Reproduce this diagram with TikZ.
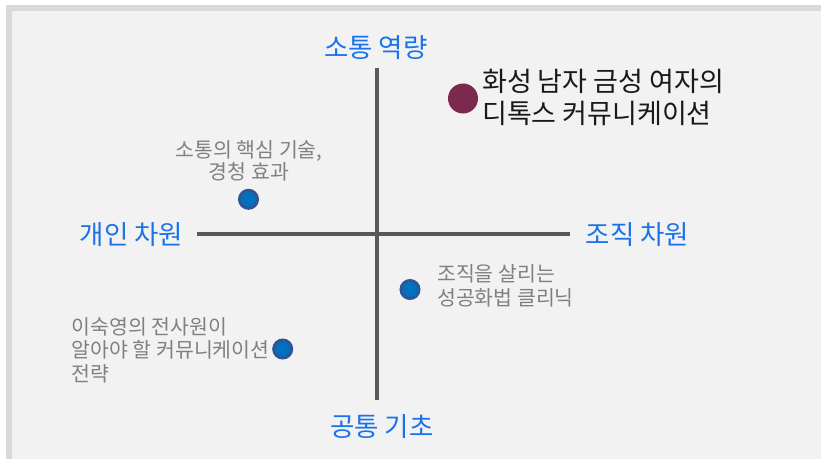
\documentclass[tikz,border=0pt]{standalone}
\usepackage{fontspec}
\setmainfont{Noto Sans CJK KR}
\definecolor{axisc}{HTML}{595959}
\definecolor{labc}{HTML}{1A73E8}
\definecolor{grayt}{HTML}{808080}
\definecolor{dotfill}{HTML}{0070C0}
\definecolor{dotdraw}{HTML}{2F5597}
\definecolor{purp}{HTML}{7B2A4E}
\definecolor{bgc}{HTML}{F2F2F2}
\definecolor{framec}{HTML}{D9D9D9}
\begin{document}
\begin{tikzpicture}[x=1pt,y=-1pt,
  axis/.style={draw=axisc,line width=4pt},
  axlabel/.style={text=labc,font=\fontsize{26.5}{30}\selectfont,inner sep=0pt},
  grtext/.style={text=grayt,font=\fontsize{20.5}{22}\selectfont,inner sep=0pt},
  bdot/.style={circle,fill=dotfill,draw=dotdraw,line width=3pt,minimum size=18pt,inner sep=0pt},
  pdot/.style={circle,fill=purp,minimum size=30pt,inner sep=0pt},
  ptext/.style={text=black!90,font=\fontsize{27}{32}\selectfont,inner sep=0pt}]
\useasboundingbox (0,0) rectangle (821,459);
\fill[white] (0,0) rectangle (821,459);
\fill[framec] (6,5) rectangle (821,459);
\fill[bgc] (12,11) rectangle (821,459);
% axes
\coordinate (vt) at (377,68);
\coordinate (vb) at (377,400);
\coordinate (hl) at (197,234);
\coordinate (hr) at (570,234);
\draw[axis] (vt) -- (vb);
\draw[axis] (hl) -- (hr);
% axis labels
\node[axlabel] (top) at (376,48) {소통 역량};
\node[axlabel] (bot) at (382,427) {공통 기초};
\node[axlabel] (left) at (131.5,235) {개인 차원};
\node[axlabel] (right) at (637.5,235) {조직 차원};
% items
\node[pdot] (p1) at (463,98.5) {};
\node[ptext,anchor=west,align=left] (pt1) at (482,97) {화성 남자 금성 여자의\\디톡스 커뮤니케이션};
\node[bdot] (d1) at (248.5,199.3) {};
\node[grtext,align=center] (t1) at (249,160.5) {소통의 핵심 기술,\\경청 효과};
\node[bdot] (d2) at (410,289.5) {};
\node[grtext,anchor=west,align=left,font=\fontsize{20.5}{23.5}\selectfont] (t2) at (437,285.75) {조직을 살리는\\성공화법 클리닉};
\node[bdot] (d3) at (282.7,349) {};
\node[grtext,anchor=west,align=left,font=\fontsize{20.5}{23.5}\selectfont] (t3) at (71.5,350) {이숙영의 전사원이\\알아야 할 커뮤니케이션\\전략};
\end{tikzpicture}
\end{document}
